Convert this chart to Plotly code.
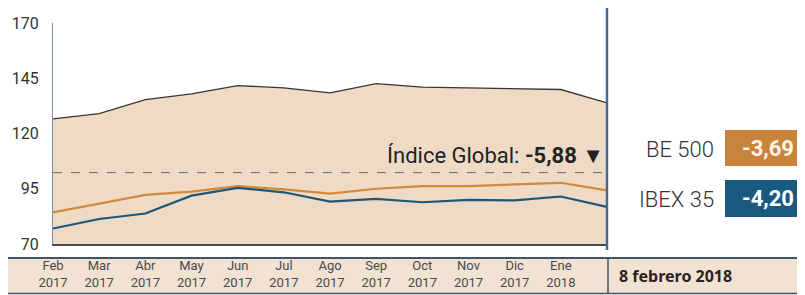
import plotly.graph_objects as go

months = ["Feb", "Mar", "Abr", "May", "Jun", "Jul", "Ago", "Sep", "Oct", "Nov", "Dic", "Ene"]
years = ["2017"] * 11 + ["2018"]
tick_labels = [f"{m}<br>{y}" for m, y in zip(months, years)]
x_pos = list(range(13))  # 12 monthly points + 8 Feb 2018

indice_global = [126.6, 129.0, 135.3, 137.9, 141.7, 140.6, 138.4, 142.6, 141.0, 140.6, 140.2, 139.9, 133.8]
be500 = [84.3, 88.1, 92.2, 93.7, 96.2, 94.7, 92.8, 95.0, 96.2, 96.2, 96.8, 97.7, 94.3]
ibex35 = [77.0, 81.3, 83.8, 91.9, 95.4, 93.4, 89.2, 90.4, 88.9, 90.0, 89.7, 91.5, 86.8]
ref_level = 102.3
y_ticks = [70, 95, 120, 145, 170]

# page has an 8px body margin: figure is drawn at (8, 8)
OFF = 8
W, H = 805 - OFF, 295 - OFF
def px(x): return (x - OFF) / W
def py(y): return (H - (y - OFF)) / H

fig = go.Figure()
fig.add_trace(go.Scatter(x=x_pos, y=indice_global, mode="lines", fill="tozeroy",
                         fillcolor="#eedac5", line=dict(color="#3d3430", width=1.3),
                         hoverinfo="skip", showlegend=False))
fig.add_trace(go.Scatter(x=x_pos, y=be500, mode="lines",
                         line=dict(color="#d3893c", width=2.2), showlegend=False))
fig.add_trace(go.Scatter(x=x_pos, y=ibex35, mode="lines",
                         line=dict(color="#1f5678", width=2.2), showlegend=False))

shapes = [
    dict(type="line", xref="x", yref="y", x0=0, x1=12, y0=ref_level, y1=ref_level,
         line=dict(color="#6b6b6b", width=1, dash="dash")),
    dict(type="rect", xref="paper", yref="paper", x0=px(8), x1=1, y0=py(293), y1=py(258),
         fillcolor="#f1e2d4", line=dict(width=0), layer="below"),
    dict(type="line", xref="paper", yref="paper", x0=px(8), x1=1, y0=py(258), y1=py(258),
         line=dict(color="#3f5468", width=2)),
    dict(type="line", xref="paper", yref="paper", x0=px(8), x1=1, y0=py(293.5), y1=py(293.5),
         line=dict(color="#3f5468", width=1.5)),
    dict(type="line", xref="paper", yref="paper", x0=px(608), x1=px(608), y0=py(293), y1=py(258),
         line=dict(color="#3f5468", width=1.5)),
    dict(type="line", xref="paper", yref="paper", x0=px(607), x1=px(607), y0=py(250), y1=py(5),
         line=dict(color="#47698c", width=2.5)),
    dict(type="rect", xref="paper", yref="paper", x0=px(725), x1=1.01, y0=py(166), y1=py(130),
         fillcolor="#c9843c", line=dict(width=0)),
    dict(type="rect", xref="paper", yref="paper", x0=px(725), x1=1.01, y0=py(217), y1=py(180),
         fillcolor="#1b5a80", line=dict(width=0)),
]

annotations = [
    dict(xref="paper", yref="paper", x=px(606), y=py(155), xanchor="right", yanchor="middle",
         text="Índice Global: <b>-5,88</b> ▼", showarrow=False,
         font=dict(family="Roboto", size=22, color="#222")),
    dict(xref="paper", yref="paper", x=px(716), y=py(149), xanchor="right", yanchor="middle",
         text="BE 500", showarrow=False, font=dict(family="Roboto", size=22, color="#333", weight=300)),
    dict(xref="paper", yref="paper", x=px(716), y=py(199), xanchor="right", yanchor="middle",
         text="IBEX 35", showarrow=False, font=dict(family="Roboto", size=22, color="#333", weight=300)),
    dict(xref="paper", yref="paper", x=px(740), y=py(148), xanchor="left", yanchor="middle",
         text="<b>-3,69</b>", showarrow=False, font=dict(family="Roboto", size=22, color="#fdf3e8")),
    dict(xref="paper", yref="paper", x=px(740), y=py(198), xanchor="left", yanchor="middle",
         text="<b>-4,20</b>", showarrow=False, font=dict(family="Roboto", size=22, color="#ffffff")),
    dict(xref="paper", yref="paper", x=px(617), y=py(276), xanchor="left", yanchor="middle",
         text="<b>8 febrero 2018</b>", showarrow=False,
         font=dict(family="Noto Sans", size=16, color="#2a2320")),
]

fig.update_layout(
    width=W, height=H, margin=dict(l=0, r=0, t=0, b=0),
    paper_bgcolor="white", plot_bgcolor="white",
    shapes=shapes, annotations=annotations,
    xaxis=dict(domain=[px(53), px(607)], range=[0, 12], tickvals=x_pos[:12], ticktext=tick_labels,
               showgrid=False, zeroline=False, showline=True, linecolor="#4a4a4a", linewidth=1.5,
               ticks="", ticklabelstandoff=9, automargin=False,
               tickfont=dict(family="Roboto", size=13, color="#4a4a4a")),
    yaxis=dict(domain=[py(244), py(23)], range=[70, 170], tickvals=y_ticks,
               showgrid=False, zeroline=False, showline=True, linecolor="#7d94a8", linewidth=1,
               ticks="", ticklabelstandoff=10, automargin=False,
               tickfont=dict(family="Roboto", size=16, color="#333")),
)

fig.write_html("out.html")
